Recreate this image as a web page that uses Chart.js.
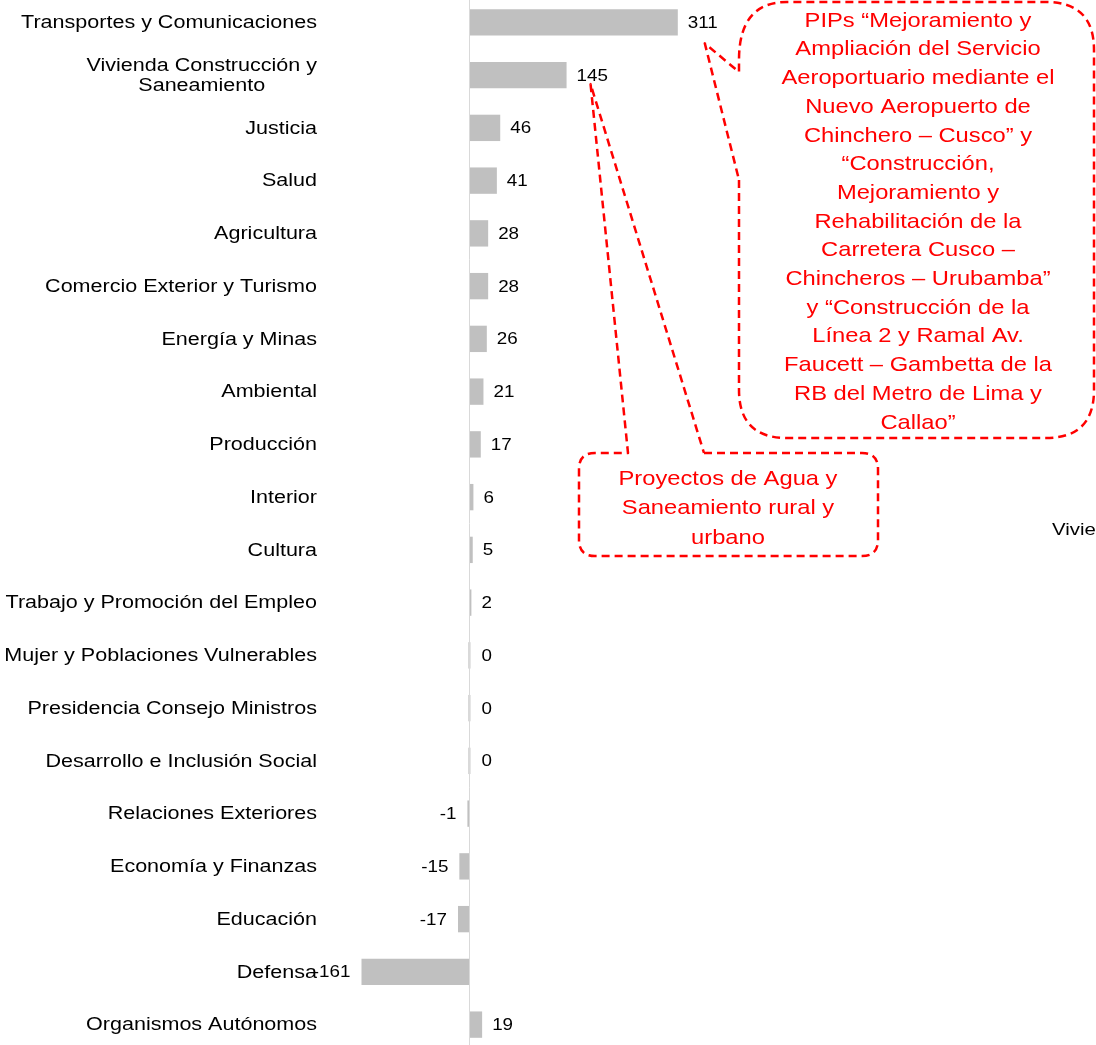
<!DOCTYPE html>
<html>
<head>
<meta charset="utf-8">
<script src="https://cdn.jsdelivr.net/npm/chart.js@4/dist/chart.umd.min.js"></script>
<style>
  html, body { margin: 0; padding: 0; background: #fff; overflow: hidden; }
  body { width: 1096px; height: 1045px; position: relative; }
  .chart-wrap { position: absolute; left: 0; top: -4px; width: 1096px; height: 1055px; }
</style>
</head>
<body>
<div class="chart-wrap"><canvas id="barChart"></canvas></div>
<script>
// Sectores y variación (millones)
const sectors = [
    'Transportes y Comunicaciones',
    ['Vivienda Construcción y', 'Saneamiento'],
    'Justicia',
    'Salud',
    'Agricultura',
    'Comercio Exterior y Turismo',
    'Energía y Minas',
    'Ambiental',
    'Producción',
    'Interior',
    'Cultura',
    'Trabajo y Promoción del Empleo',
    'Mujer y Poblaciones Vulnerables',
    'Presidencia Consejo Ministros',
    'Desarrollo e Inclusión Social',
    'Relaciones Exteriores',
    'Economía y Finanzas',
    'Educación',
    'Defensa',
    'Organismos Autónomos',
];
const values = [311, 145, 46, 41, 28, 28, 26, 21, 17, 6, 5, 2, 0, 0, 0, -1, -15, -17, -161, 19];

const noteBig = [
    'PIPs “Mejoramiento y',
    'Ampliación del Servicio',
    'Aeroportuario mediante el',
    'Nuevo Aeropuerto de',
    'Chinchero – Cusco” y',
    '“Construcción,',
    'Mejoramiento y',
    'Rehabilitación de la',
    'Carretera Cusco –',
    'Chincheros – Urubamba”',
    'y “Construcción de la',
    'Línea 2 y Ramal Av.',
    'Faucett – Gambetta de la',
    'RB del Metro de Lima y',
    'Callao”',
];
const noteSmall = ['Proyectos de Agua y', 'Saneamiento rural y', 'urbano'];

const FONT = '"Liberation Sans", Arial, sans-serif';
const RED = '#ff0000';

// el gráfico original está un poco estirado en horizontal
function wideText(ctx, txt, x, y, align, sx) {
    ctx.save();
    ctx.translate(x, y);
    ctx.scale(sx, 1);
    ctx.textAlign = align;
    ctx.fillText(txt, 0, 0);
    ctx.restore();
}

// etiquetas de categoría, línea del cero y valores
const labelsPlugin = {
    id: 'labelsPlugin',
    afterDatasetsDraw(chart) {
        const ctx = chart.ctx;
        const x = chart.scales.x, y = chart.scales.y;
        const x0 = x.getPixelForValue(0);
        ctx.save();
        ctx.strokeStyle = '#d9d9d9';
        ctx.lineWidth = 1;
        ctx.beginPath();
        ctx.moveTo(Math.round(x0) + 0.5, 0);
        ctx.lineTo(Math.round(x0) + 0.5, chart.height);
        ctx.stroke();

        ctx.fillStyle = '#000';
        ctx.font = '17.5px ' + FONT;
        ctx.textBaseline = 'middle';
        const right = 317, sx = 1.23;
        sectors.forEach((lab, i) => {
            const cy = y.getPixelForValue(i) + 1;
            if (Array.isArray(lab)) {
                const w = Math.max(...lab.map(l => ctx.measureText(l).width)) * sx;
                lab.forEach((l, j) => {
                    wideText(ctx, l, right - w / 2, cy + (j - (lab.length - 1) / 2) * 20, 'center', sx);
                });
            } else {
                wideText(ctx, lab, right, cy, 'right', sx);
            }
        });

        const meta = chart.getDatasetMeta(0);
        ctx.font = '16.5px ' + FONT;
        meta.data.forEach((bar, i) => {
            const v = values[i];
            const txt = String(Math.round(v));
            if (v < 0) {
                wideText(ctx, txt, Math.min(bar.x, x0) - 11, bar.y + 1, 'right', 1.14);
            } else {
                wideText(ctx, txt, Math.max(bar.x, x0 + 2) + 10, bar.y + 1, 'left', 1.14);
            }
        });

        ctx.font = '17px ' + FONT;
        wideText(ctx, 'Vivie', 1052, 530 + 4, 'left', 1.2);
        ctx.restore();
    }
};

// llamadas (callouts) rojas punteadas
const calloutPlugin = {
    id: 'calloutPlugin',
    afterDraw(chart) {
        const ctx = chart.ctx;
        const x = chart.scales.x, y = chart.scales.y;
        const off = 4; // el canvas está desplazado 4px hacia arriba
        ctx.save();
        ctx.strokeStyle = RED;
        ctx.lineWidth = 2.5;
        ctx.setLineDash([8, 5]);
        ctx.lineJoin = 'round';

        // callout grande
        const tip1 = { x: x.getPixelForValue(values[0]) + 27, y: y.getPixelForValue(0) + 21 };
        const L = 739, R = 1094, T = 2 + off, B = 438 + off, r = 48;
        ctx.beginPath();
        ctx.moveTo(L, 180 + off);
        ctx.lineTo(L, B - r);
        ctx.quadraticCurveTo(L, B, L + r, B);
        ctx.lineTo(R - r, B);
        ctx.quadraticCurveTo(R, B, R, B - r);
        ctx.lineTo(R, T + r);
        ctx.quadraticCurveTo(R, T, R - r, T);
        ctx.lineTo(L + r, T);
        ctx.quadraticCurveTo(L, T, L, T + r + 10);
        ctx.lineTo(L, 72 + off);
        ctx.lineTo(tip1.x, tip1.y);
        ctx.lineTo(L, 180 + off);
        ctx.stroke();

        // callout pequeño
        const tip2 = { x: x.getPixelForValue(values[1]) + 24, y: y.getPixelForValue(1) + 9 };
        const l2 = 579, r2 = 878, t2 = 453 + off, b2 = 556 + off, rr = 16;
        ctx.beginPath();
        ctx.moveTo(704, t2);
        ctx.lineTo(r2 - rr, t2);
        ctx.quadraticCurveTo(r2, t2, r2, t2 + rr);
        ctx.lineTo(r2, b2 - rr);
        ctx.quadraticCurveTo(r2, b2, r2 - rr, b2);
        ctx.lineTo(l2 + rr, b2);
        ctx.quadraticCurveTo(l2, b2, l2, b2 - rr);
        ctx.lineTo(l2, t2 + rr);
        ctx.quadraticCurveTo(l2, t2, l2 + rr, t2);
        ctx.lineTo(628, t2);
        ctx.lineTo(tip2.x, tip2.y);
        ctx.lineTo(704, t2);
        ctx.stroke();

        ctx.setLineDash([]);
        ctx.fillStyle = RED;
        ctx.font = '21px ' + FONT;
        ctx.textBaseline = 'middle';
        noteBig.forEach((l, i) => wideText(ctx, l, 918, 21 + off + i * 28.7, 'center', 1.13));
        noteSmall.forEach((l, i) => wideText(ctx, l, 728, 479 + off + i * 29.5, 'center', 1.13));
        ctx.restore();
    }
};

new Chart(document.getElementById('barChart').getContext('2d'), {
    type: 'bar',
    data: {
        labels: sectors,
        datasets: [{
            data: values,
            backgroundColor: '#c0c0c0',
            barPercentage: 0.5,
            categoryPercentage: 1,
            minBarLength: 2,
        }],
    },
    options: {
        indexAxis: 'y',
        responsive: true,
        maintainAspectRatio: false,
        animation: false,
        layout: { padding: { left: 330, right: 0, top: 0, bottom: 0 } },
        plugins: { legend: { display: false }, tooltip: { enabled: false } },
        scales: {
            x: { display: false, min: -208, max: 935 },
            y: { display: false },
        },
    },
    plugins: [labelsPlugin, calloutPlugin],
});
</script>
</body>
</html>
